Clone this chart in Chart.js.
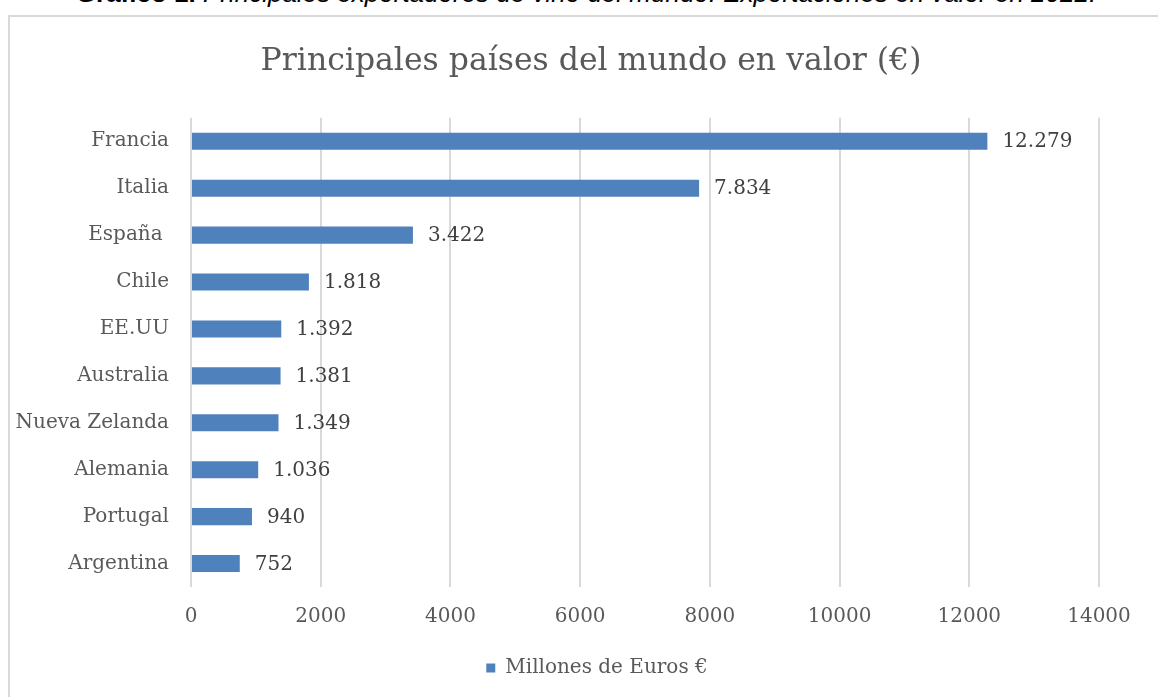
<!DOCTYPE html>
<html>
<head>
<meta charset="utf-8">
<script src="https://cdn.jsdelivr.net/npm/chart.js@4.4.1/dist/chart.umd.min.js"></script>
<style>
  html, body { margin: 0; padding: 0; background: #ffffff; overflow: hidden; }
  body { width: 1158px; height: 697px; position: relative; }
  #caption { position: absolute; left: 0; width: 1172px; top: -22px; height: 30px; line-height: 30px; text-align: center;
    font-family: "Liberation Sans", Arial, sans-serif; font-size: 26px; color: #000; white-space: nowrap; }
  #caption b { font-weight: bold; }
  #caption i { font-style: italic; }
  #frame { position: absolute; left: 8px; top: 15px; width: 1200px; height: 720px; border: 2px solid #d9d9d9; box-sizing: border-box; }
  #wrap { position: absolute; left: 0; top: 0; width: 1158px; height: 697px; }
</style>
</head>
<body>
<div id="caption"><b>Gráfico 1.</b> <i>Principales exportadores de vino del mundo. Exportaciones en valor en 2022.</i></div>
<div id="frame"></div>
<div id="wrap"><canvas id="c" width="1158" height="697"></canvas></div>
<script>
const chartTitle = "Principales países del mundo en valor (€)";
const seriesName = "Millones de Euros €";
const categories = ["Francia", "Italia", "España ", "Chile", "EE.UU", "Australia", "Nueva Zelanda", "Alemania", "Portugal", "Argentina"];
const values = [12279, 7834, 3422, 1818, 1392, 1381, 1349, 1036, 940, 752];
const xTicks = [0, 2000, 4000, 6000, 8000, 10000, 12000, 14000];

const FONT = '"DejaVu Serif", "Liberation Serif", serif';
const barColor = '#4f81bd';

function fmt(v) {
  return String(v).replace(/\B(?=(\d{3})+(?!\d))/g, '.');
}

const valueLabels = {
  id: 'valueLabels',
  afterDatasetsDraw(chart) {
    const ctx = chart.ctx;
    const meta = chart.getDatasetMeta(0);
    ctx.save();
    ctx.font = '20px ' + FONT;
    ctx.fillStyle = '#404040';
    ctx.textAlign = 'left';
    ctx.textBaseline = 'middle';
    meta.data.forEach((bar, i) => {
      ctx.fillText(fmt(chart.data.datasets[0].data[i]), bar.x + 15, bar.y + 1);
    });
    ctx.restore();
  }
};

// shift the centred title / legend boxes to match the original chart frame
const boxShift = {
  id: 'boxShift',
  afterLayout(chart) {
    if (chart.titleBlock) { chart.titleBlock.left = 24; }
    if (chart.legend) { chart.legend.left = 36; }
  }
};

new Chart(document.getElementById('c'), {
  type: 'bar',
  data: {
    labels: categories,
    datasets: [{
      label: seriesName,
      data: values,
      backgroundColor: barColor,
      borderWidth: 0,
      categoryPercentage: 0.4,
      barPercentage: 0.91
    }]
  },
  options: {
    indexAxis: 'y',
    responsive: false,
    animation: false,
    layout: { padding: { left: 12, right: 0, top: 0, bottom: 9 } },
    scales: {
      x: {
        min: 0, max: 14000,
        afterBuildTicks(scale) { scale.ticks = xTicks.map(v => ({ value: v })); },
        afterFit(scale) { scale.paddingRight = 59; },
        grid: { color: '#d9d9d9', lineWidth: 2, drawTicks: false },
        border: { display: false },
        ticks: { font: { family: FONT, size: 20 }, color: '#595959', padding: 18,
          callback: (v) => String(v) }
      },
      y: {
        afterFit(scale) { scale.width = 179; },
        grid: { display: false, drawTicks: false },
        border: { display: false },
        ticks: { font: { family: FONT, size: 20 }, color: '#595959', padding: 22 }
      }
    },
    plugins: {
      title: {
        display: true,
        text: chartTitle,
        color: '#595959',
        font: { family: FONT, size: 31.5, weight: 'normal' },
        padding: { top: 43, bottom: 37 }
      },
      legend: {
        display: true,
        position: 'bottom',
        labels: {
          font: { family: FONT, size: 20 },
          color: '#595959',
          boxWidth: 9, boxHeight: 9,
          padding: 11
        }
      },
      tooltip: { enabled: false }
    }
  },
  plugins: [valueLabels, boxShift]
});
</script>
</body>
</html>
